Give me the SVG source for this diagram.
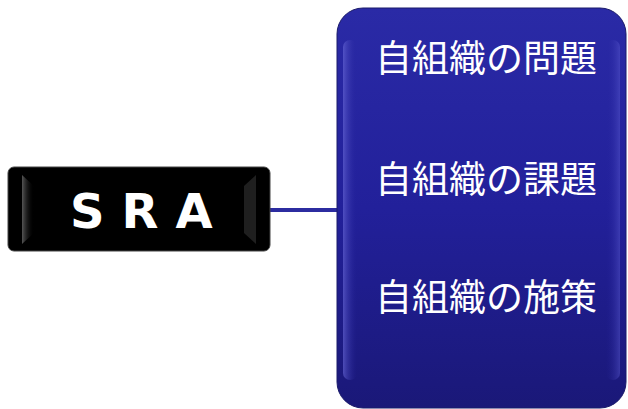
<svg xmlns="http://www.w3.org/2000/svg" width="628" height="409" viewBox="0 0 628 409">
<defs>
<linearGradient id="blueV" x1="0" y1="0" x2="0" y2="1">
<stop offset="0" stop-color="#2a2aa6"/>
<stop offset="0.5" stop-color="#22209a"/>
<stop offset="1" stop-color="#1a1878"/>
</linearGradient>
<linearGradient id="blueEdgeL" x1="0" y1="0" x2="1" y2="0">
<stop offset="0" stop-color="#6a6ad8" stop-opacity="0.9"/>
<stop offset="1" stop-color="#22209a" stop-opacity="0"/>
</linearGradient>
<linearGradient id="blueEdgeR" x1="1" y1="0" x2="0" y2="0">
<stop offset="0" stop-color="#5a5ad0" stop-opacity="0.8"/>
<stop offset="1" stop-color="#22209a" stop-opacity="0"/>
</linearGradient>
<linearGradient id="blackEdge" x1="0" y1="0" x2="1" y2="0">
<stop offset="0" stop-color="#555"/>
<stop offset="1" stop-color="#000" stop-opacity="0"/>
</linearGradient>
<style>
.jp{font-family:"Noto Sans CJK JP","Noto Sans CJK SC",sans-serif;font-size:37px;fill:#fff;}
.sra{font-family:"DejaVu Sans","Liberation Sans",sans-serif;font-weight:bold;font-size:48px;fill:#fff;letter-spacing:17px;}
</style>
</defs>
<g id="connectors">
<line x1="268" y1="210" x2="340" y2="210" stroke="#2c2ca0" stroke-width="4"/>
</g>
<g id="sra">
<rect x="8" y="167" width="262" height="84" rx="6" fill="#000" stroke="#444" stroke-width="1"/>
<path d="M22 175 L34 186 L34 233 L22 244 Z" fill="url(#blackEdge)"/>
<path d="M256 175 L244 186 L244 233 L256 244 Z" fill="#333" opacity="0.6"/>
<text class="sra" x="70" y="228">SRA</text>
</g>
<g id="box">
<rect x="337" y="8" width="289" height="400" rx="26" fill="url(#blueV)" stroke="#1a1a6a" stroke-width="1"/>
<rect x="343" y="40" width="14" height="340" rx="7" fill="url(#blueEdgeL)" opacity="0.7"/>
<rect x="606" y="40" width="14" height="340" rx="7" fill="url(#blueEdgeR)" opacity="0.6"/>
<text class="jp" x="486" y="72" text-anchor="middle">自組織の問題</text>
<text class="jp" x="486" y="193" text-anchor="middle">自組織の課題</text>
<text class="jp" x="486" y="311" text-anchor="middle">自組織の施策</text>
</g>
</svg>
